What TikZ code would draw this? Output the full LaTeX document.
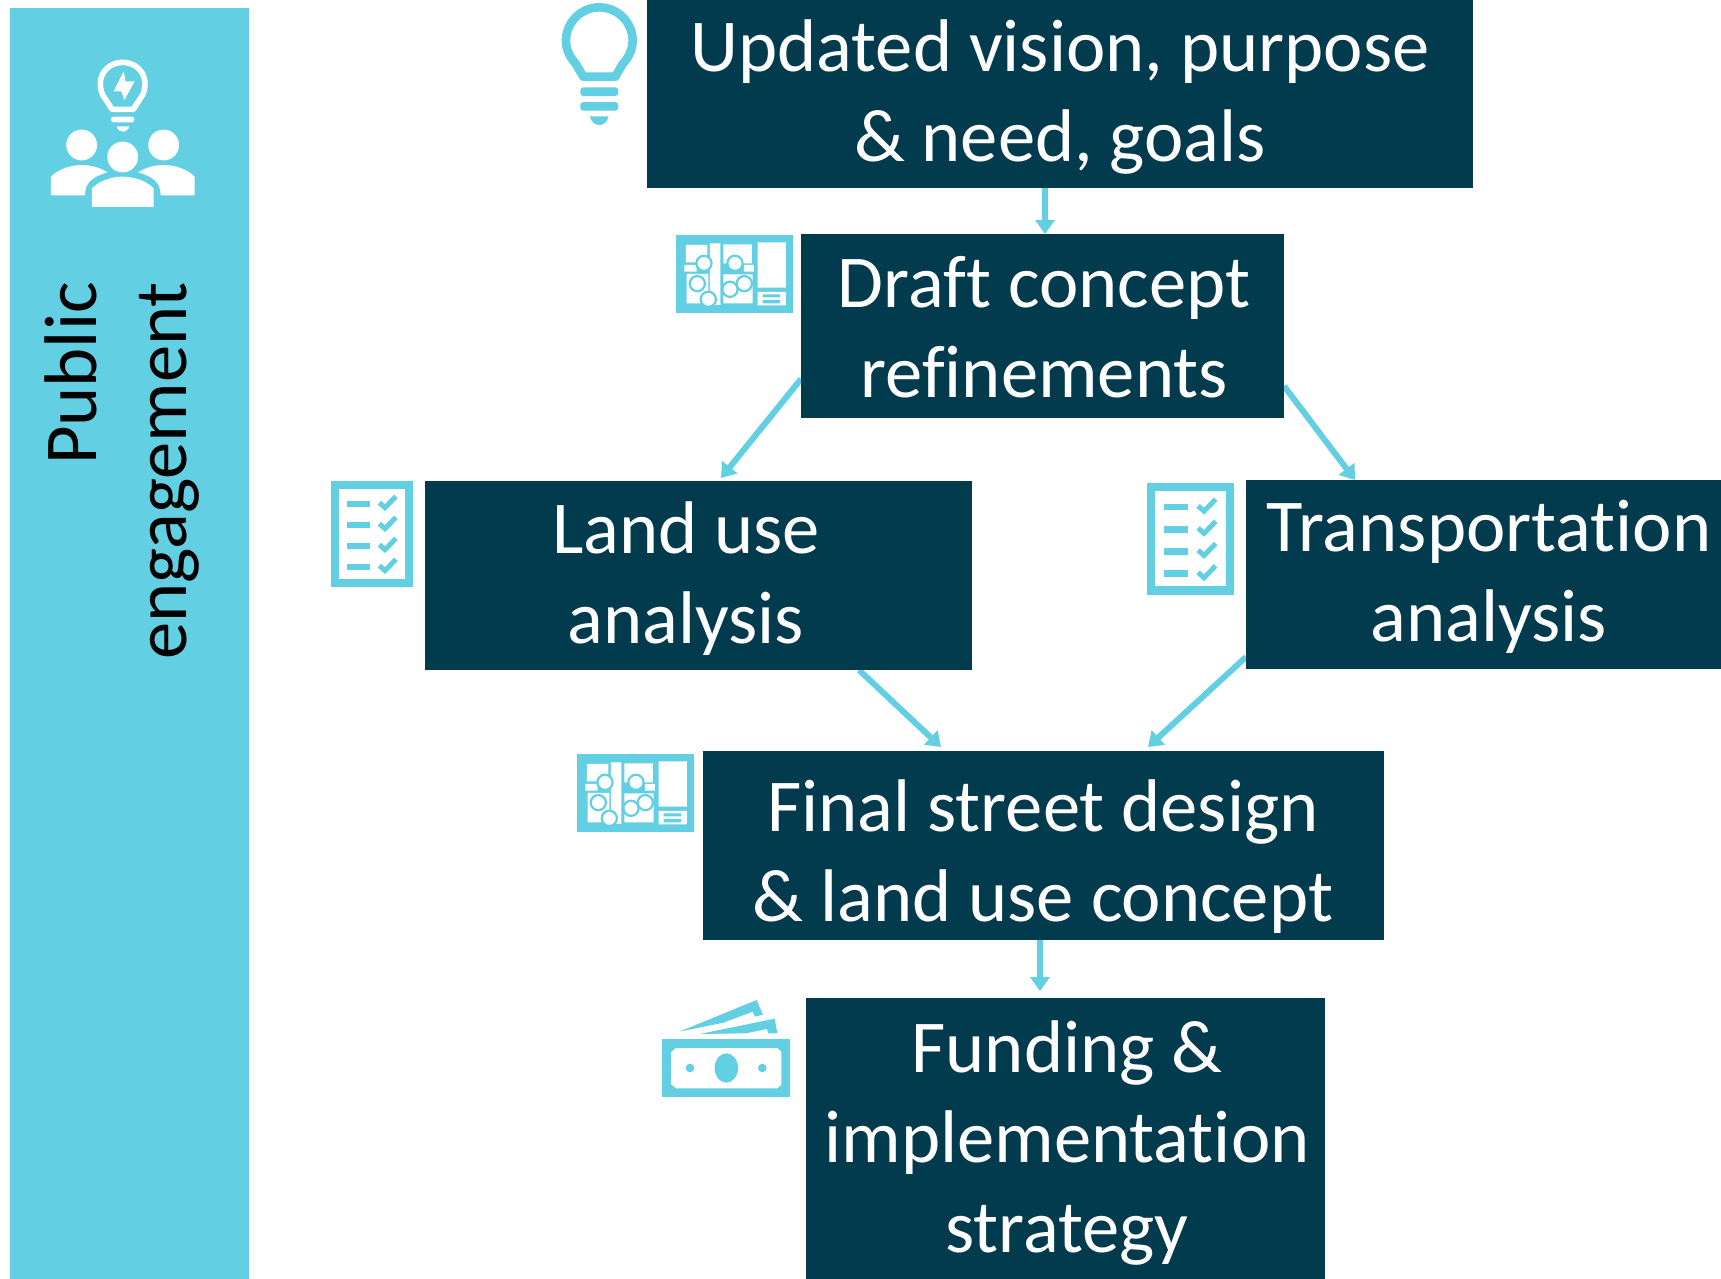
\documentclass[tikz,border=0pt]{standalone}
\usepackage{fontspec}
\setmainfont[Ligatures=NoCommon,RawFeature={-liga;-clig;-dlig}]{Carlito}
\usetikzlibrary{calc,arrows.meta,backgrounds}
\definecolor{sky}{HTML}{62CFE3}
\definecolor{deep}{HTML}{023B4D}
\tikzset{
  box/.style={fill=deep,draw=none,inner sep=0pt,outer sep=0pt,anchor=north west},
  panel/.style={fill=sky,draw=none,inner sep=0pt,outer sep=0pt,anchor=north west},
  lbl/.style={text=white,inner sep=0pt,align=center,font=\fontsize{74.6}{90}\selectfont},
  flow/.style={draw=sky,line width=6pt,-{Triangle[length=14pt,width=19pt]}},
}
\newcommand{\mapicon}[2]{%
\begin{scope}[shift={(#1,#2)},x=0.3333pt,y=-0.3333pt]
 \fill[sky] (408,705) rectangle (758,938);
 \fill[white] (438,735) rectangle (502,787) (433,795) rectangle (470,815)
  (510,730) rectangle (541,915) (550,733) rectangle (636,790) (612,795) rectangle (642,815)
  (440,822) rectangle (505,910) (550,823) rectangle (638,910)
  (653,727) rectangle (738,863) (653,876) rectangle (738,916);
 \fill[sky] (668,883) rectangle (720,892) (668,900) rectangle (720,910);
 \foreach \cx/\cy in {492/790,585/790,472/851,505/898,570/868,613/851}
  \filldraw[fill=white,draw=sky,line width=2.2pt] (\cx,\cy) circle[radius=7.6pt];
\end{scope}}
\newcommand{\checkicon}[3]{%
\begin{scope}[shift={(#1,#2)},x=#3pt,y=-#3pt]
 \fill[sky] (33,33) rectangle (280,350);
 \fill[white] (57,57) rectangle (256,326);
 \foreach \dy in {0,63,126,189}{
  \fill[sky] (81,92+\dy) rectangle (150,111+\dy);
  \draw[sky,line width=5pt] (178,98+\dy) -- (195,113+\dy) -- (228,79+\dy);}
\end{scope}}
\begin{document}
\begin{tikzpicture}[x=1pt,y=-1pt]
\useasboundingbox (0,0) rectangle (1721,1279);
% sidebar
\node[panel,minimum width=239pt,minimum height=1271pt] (side) at (10,8) {};
\node[rotate=90,inner sep=0pt,align=right,font=\fontsize{74.6}{90}\selectfont,text=black,anchor=center] (sidelbl) at (122,471) {Public\\engagement};
% sidebar icon
\begin{scope}[shift={(0,30)},x=0.3333pt,y=-0.3333pt]
 \draw[white,line width=5.6pt,line join=round]
  (336,238) -- (400,238) -- (421,205) .. controls (430,195) and (435,180) .. (435,160)
  .. controls (435,125) and (405,97) .. (368,97) .. controls (331,97) and (301,125) .. (301,160)
  .. controls (301,180) and (306,195) .. (315,205) -- cycle;
 \fill[white] (371,124) -- (341,184) -- (364,184) -- (373,210) -- (404,154) -- (377,154) -- cycle;
 \fill[white,rounded corners=2.5pt] (333,260) rectangle (403,277);
 \fill[white] (350,289) -- (388,289) .. controls (385,300) and (375,305) .. (369,305) .. controls (362,305) and (352,300) .. (350,289) -- cycle;
 \fill[white] (245,345) circle[radius=15.4pt] (491,345) circle[radius=15.4pt] (368,381) circle[radius=15.4pt];
 \fill[white] (153,496) -- (153,440) .. controls (175,418) and (212,405) .. (245,405) .. controls (275,405) and (300,413) .. (322,427) .. controls (280,440) and (255,455) .. (255,496) -- cycle;
 \fill[white] (584,496) -- (584,440) .. controls (562,418) and (525,405) .. (491,405) .. controls (462,405) and (437,413) .. (415,427) .. controls (457,440) and (482,455) .. (482,496) -- cycle;
 \fill[white] (276,531) -- (276,475) .. controls (298,452) and (335,440) .. (368,440) .. controls (401,440) and (439,452) .. (461,475) -- (461,531) -- cycle;
\end{scope}
% boxes
\node[box,minimum width=826pt,minimum height=188pt] (upd) at (647,0) {};
\node[box,minimum width=483pt,minimum height=184pt] (draft) at (801,234) {};
\node[box,minimum width=547pt,minimum height=189pt] (land) at (425,481) {};
\node[box,minimum width=475pt,minimum height=189pt] (trans) at (1246,480) {};
\node[box,minimum width=681pt,minimum height=189pt] (final) at (703,751) {};
\node[box,minimum width=519pt,minimum height=281pt] (fund) at (806,998) {};
% labels
\node[lbl] (updl) at (1060,97) {Updated vision, purpose\\\& need, goals};
\node[lbl] (draftl) at (1044,327) {Draft concept\\refinements};
\node[lbl] (landl) at (686,579) {Land use\\analysis};
\node[lbl] (transl) at (1489,577) {Transportation\\analysis};
\node[lbl] (finall) at (1043,857) {Final street design\\\& land use concept};
\node[lbl] (fundl) at (1067,1143) {Funding \&\\implementation\\strategy};
% connectors
\begin{scope}[on background layer]
\fill[white] (0,0) rectangle (1721,1279);
\draw[flow] ($(draft.north)+(2.5,-46)$) -- ($(draft.north)+(2.5,0)$);
\draw[flow] ($(draft.south west)+(0,-39)$) -- ($(land.north west)+(296,-3)$);
\draw[flow] ($(draft.south east)+(0,-32)$) -- ($(trans.north west)+(109,0)$);
\draw[flow] ($(land.south west)+(434,0)$) -- ($(final.north west)+(238,-4)$);
\draw[flow] ($(trans.south west)+(0,-12)$) -- ($(final.north west)+(445,-4)$);
\draw[flow] ($(final.south west)+(337,0)$) -- ($(fund.north west)+(234,-7)$);
\end{scope}
% bulb
\begin{scope}[shift={(599.3,40.7)},x=0.3333pt,y=-0.3333pt]
 \draw[sky,line width=8.6pt,line join=round]
  (-48,108) -- (48,108) -- (70,70) .. controls (88,50) and (100,27) .. (100,0)
  .. controls (100,-55) and (55,-100) .. (0,-100) .. controls (-55,-100) and (-100,-55) .. (-100,0)
  .. controls (-100,27) and (-88,50) .. (-70,70) -- cycle;
 \fill[sky,rounded corners=3pt] (-57,140) rectangle (57,166) (-57,184) rectangle (57,210);
 \fill[sky] (-28,227) -- (28,227) .. controls (24,245) and (12,253) .. (0,253) .. controls (-12,253) and (-24,245) .. (-28,227) -- cycle;
\end{scope}
% maps
\mapicon{540}{0}
\mapicon{441}{519}
% checklists
\checkicon{320}{470}{0.3333}
\checkicon{1135.4}{471.4}{0.352}
% money
\begin{scope}[shift={(640,980)},x=0.3333pt,y=-0.3333pt]
 \fill[sky] (67,177) rectangle (450,351);
 \fill[white] (108,204) -- (412,204) -- (424,216) -- (424,314) -- (412,325) -- (108,325) -- (93,312) -- (93,217) -- cycle;
 \fill[sky] (259,264) ellipse[x radius=11.7pt,y radius=14.7pt] (150,264) circle[radius=4.3pt] (367,264) circle[radius=4.3pt];
 \fill[sky] (118,155) -- (350,60) -- (369,104) -- (345,110) -- (338,95) -- (250,128) -- cycle;
 \fill[sky] (180,162) -- (404,116) -- (412,160) -- (385,160) -- (381,147) -- (318,160) -- cycle;
\end{scope}
\end{tikzpicture}
\end{document}
